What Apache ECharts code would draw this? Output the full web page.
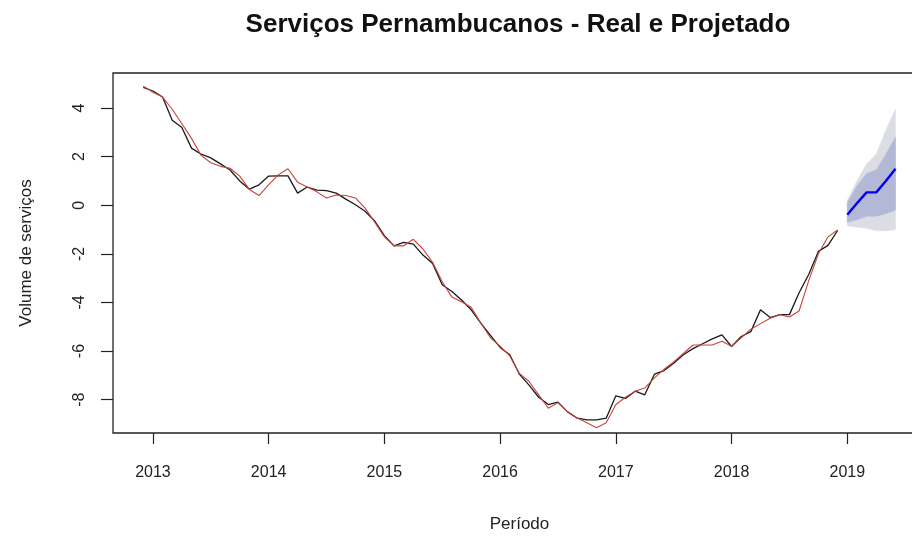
<!DOCTYPE html>
<html>
<head>
<meta charset="utf-8">
<script src="https://cdn.jsdelivr.net/npm/echarts@6/dist/echarts.min.js"></script>
<style>
  html, body { margin: 0; padding: 0; background: #fff; }
  #chart { width: 912px; height: 536px; }
</style>
</head>
<body>
<div id="chart"></div>
<script>
// monthly series, first point = Dec 2012
const startYear = 2012 + 11 / 12;
const realValues = [
  4.85, 4.7, 4.45, 3.5, 3.2, 2.35, 2.1, 1.95, 1.7, 1.45, 1.0, 0.66,
  0.84, 1.2, 1.21, 1.21, 0.5, 0.75, 0.62, 0.6, 0.5, 0.25, 0.02, -0.25,
  -0.65, -1.25, -1.67, -1.53, -1.6, -2.05, -2.4, -3.27, -3.55, -3.9, -4.3, -4.85,
  -5.35, -5.85, -6.15, -6.95, -7.4, -7.9, -8.2, -8.1, -8.5, -8.76, -8.83, -8.83,
  -8.76, -7.84, -7.95, -7.65, -7.8, -6.95, -6.8, -6.5, -6.15, -5.9, -5.7, -5.5,
  -5.33, -5.81, -5.4, -5.2, -4.3, -4.62, -4.5, -4.5, -3.6, -2.85, -1.9, -1.65,
  -1.04
];
const fittedValues = [
  4.9, 4.65, 4.45, 3.95, 3.35, 2.75, 2.05, 1.75, 1.6, 1.52, 1.2, 0.65,
  0.4, 0.85, 1.25, 1.5, 0.95, 0.75, 0.55, 0.3, 0.42, 0.4, 0.3, -0.12,
  -0.7, -1.3, -1.67, -1.67, -1.4, -1.8, -2.35, -3.15, -3.78, -3.97, -4.2, -4.85,
  -5.45, -5.8, -6.2, -6.92, -7.25, -7.8, -8.35, -8.12, -8.5, -8.75, -8.95, -9.15,
  -8.95, -8.2, -7.9, -7.65, -7.52, -7.1, -6.75, -6.45, -6.1, -5.75, -5.75, -5.75,
  -5.6, -5.8, -5.45, -5.1, -4.87, -4.65, -4.5, -4.6, -4.35, -3.1, -2.0, -1.3,
  -1.02
];
// forecast Jan..Jun 2019
const fcStart = 2019;
const fcMean = [-0.39, 0.08, 0.53, 0.53, 1.0, 1.5];
const fcLo80 = [-0.7, -0.6, -0.45, -0.45, -0.35, -0.2];
const fcHi80 = [0.1, 0.8, 1.3, 1.45, 2.1, 2.8];
const fcLo95 = [-0.85, -0.9, -0.95, -1.05, -1.05, -1.0];
const fcHi95 = [0.2, 1.0, 1.7, 2.1, 3.1, 3.95];
const yearTicks = [2013, 2014, 2015, 2016, 2017, 2018, 2019];
const valueTicks = [-8, -6, -4, -2, 0, 2, 4];

const toPairs = (vals, t0) => vals.map((v, i) => [t0 + i / 12, v]);
const bandData = (lo, hi, t0) => lo.map((v, i) => [t0 + i / 12, v, hi[i]]);

// whole band as one polygon: upper edge forward, lower edge back
function bandRenderer(color) {
  return function (params, api) {
    if (params.dataIndexInside !== 0) return null;
    const n = params.dataInsideLength;
    const upper = [], lower = [];
    for (let j = 0; j < n; j++) {
      const t = api.value(0, j);
      lower.push(api.coord([t, api.value(1, j)]));
      upper.push(api.coord([t, api.value(2, j)]));
    }
    return {
      type: 'polygon',
      shape: { points: upper.concat(lower.reverse()) },
      style: { fill: color, stroke: color, lineWidth: 0.5 }
    };
  };
}

const chart = echarts.init(document.getElementById('chart'), null, { renderer: 'canvas' });

const font = 'Liberation Sans, Arial, sans-serif';

const option = {
  animation: false,
  backgroundColor: '#fff',
  title: {
    text: 'Serviços Pernambucanos - Real e Projetado',
    left: 513,
    textAlign: 'center',
    top: 7,
    textStyle: { fontFamily: font, fontSize: 26, fontWeight: 'bold', color: '#111' }
  },
  grid: {
    left: 113,
    width: 813,
    top: 73,
    bottom: 103,
    outerBoundsMode: 'none',
    show: true,
    borderColor: '#222',
    borderWidth: 1.3
  },
  xAxis: {
    type: 'value',
    min: 2012.655,
    max: 2019.68,
    name: 'Período',
    nameLocation: 'middle',
    nameGap: 83,
    nameTextStyle: { fontFamily: font, fontSize: 17, color: '#222' },
    axisLine: { show: false, onZero: false },
    splitLine: { show: false },
    axisTick: { show: true, length: 11, customValues: yearTicks, lineStyle: { color: '#222', width: 1.2 } },
    axisLabel: {
      customValues: yearTicks,
      margin: 32,
      fontFamily: font, fontSize: 16, color: '#222',
      formatter: v => String(v)
    }
  },
  yAxis: {
    type: 'value',
    min: -9.37,
    max: 5.44,
    name: 'Volume de serviços',
    nameLocation: 'middle',
    nameGap: 78,
    nameTextStyle: { fontFamily: font, fontSize: 17, color: '#222' },
    axisLine: { show: false, onZero: false },
    splitLine: { show: false },
    axisTick: { show: true, length: 12, customValues: valueTicks, lineStyle: { color: '#222', width: 1.2 } },
    axisLabel: {
      customValues: valueTicks,
      rotate: 90,
      margin: 25,
      fontFamily: font, fontSize: 16, color: '#222',
      formatter: v => String(v)
    }
  },
  series: [
    {
      name: 'IC 95%', type: 'custom', silent: true,
      renderItem: bandRenderer('#dcdce4'),
      encode: { x: 0, y: [1, 2] },
      data: bandData(fcLo95, fcHi95, fcStart)
    },
    {
      name: 'IC 80%', type: 'custom', silent: true,
      renderItem: bandRenderer('#b3b8d6'),
      encode: { x: 0, y: [1, 2] },
      data: bandData(fcLo80, fcHi80, fcStart)
    },
    {
      name: 'Real', type: 'line', symbol: 'none',
      lineStyle: { color: '#1a1a1a', width: 1.3 },
      data: toPairs(realValues, startYear)
    },
    {
      name: 'Ajustado', type: 'line', symbol: 'none',
      lineStyle: { color: '#c8423c', width: 1.1 },
      data: toPairs(fittedValues, startYear)
    },
    {
      name: 'Projetado', type: 'line', symbol: 'none',
      lineStyle: { color: '#0000ee', width: 2.4 },
      data: toPairs(fcMean, fcStart)
    }
  ]
};

chart.setOption(option);
</script>
</body>
</html>
